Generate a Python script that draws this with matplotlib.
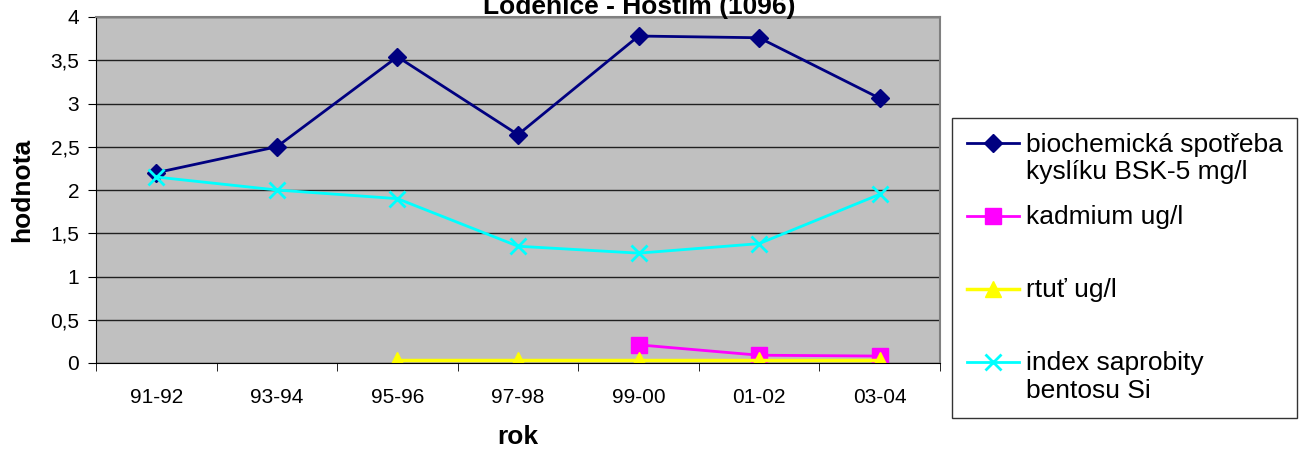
import matplotlib
matplotlib.use('Agg')
import numpy as np
import matplotlib.pyplot as plt
from matplotlib.legend_handler import HandlerLine2D
from matplotlib.ticker import FixedLocator, NullFormatter

plt.rcParams['font.family'] = ['Liberation Sans', 'DejaVu Sans']

roky = ['91-92', '93-94', '95-96', '97-98', '99-00', '01-02', '03-04']
bsk = [2.20, 2.50, 3.54, 2.64, 3.78, 3.76, 3.06]
kadmium = [None, None, None, None, 0.21, 0.09, 0.08]
rtut = [None, None, 0.03, 0.03, 0.03, 0.03, 0.03]
saprobita = [2.15, 2.00, 1.90, 1.35, 1.27, 1.38, 1.95]
yticky = [0, 0.5, 1, 1.5, 2, 2.5, 3, 3.5, 4]
ytick_popisky = ['0', '0,5', '1', '1,5', '2', '2,5', '3', '3,5', '4']
legenda = ['biochemická spotřeba\nkyslíku BSK-5 mg/l',
           'kadmium ug/l\n ',
           'rtuť ug/l\n ',
           'index saprobity\nbentosu Si']

def body(hodnoty):
    xs = [i for i, v in enumerate(hodnoty) if v is not None]
    ys = [v for v in hodnoty if v is not None]
    return xs, ys

# znacka v legende u prvniho radku popisu (jako Excel)
class HandlerNahore(HandlerLine2D):
    def create_artists(self, legend, orig_handle, xdescent, ydescent,
                       width, height, fontsize, trans):
        art = super().create_artists(legend, orig_handle, xdescent, ydescent,
                                     width, height, fontsize, trans)
        for a in art:
            a.set_ydata(np.asarray(a.get_ydata()) + 0.6 * fontsize)
        return art

fig = plt.figure(figsize=(13.05, 4.5), dpi=100)
ax = fig.add_axes([96 / 1305, 87 / 450, 844 / 1305, 346 / 450])
ax.set_facecolor('#C0C0C0')

car = []
x, y = body(bsk)
car += ax.plot(x, y, '-D', color='#000080', lw=2, ms=9)
x, y = body(kadmium)
car += ax.plot(x, y, '-s', color='#FF00FF', lw=2, ms=11)
x, y = body(rtut)
car += ax.plot(x, y, '-^', color='#FFFF00', lw=2.5, ms=11)
x, y = body(saprobita)
car += ax.plot(x, y, '-x', color='#00FFFF', lw=2, ms=11, mew=2)

ax.set_xlim(-0.5, 6.5)
ax.set_ylim(0, 4)
ax.set_yticks(yticky)
ax.set_yticklabels(ytick_popisky, fontsize=15)
ax.set_xticks(range(len(roky)))
ax.set_xticklabels(roky, fontsize=15)
ax.tick_params(axis='x', length=0, pad=18)
ax.xaxis.set_minor_locator(FixedLocator([i - 0.5 for i in range(len(roky) + 1)]))
ax.xaxis.set_minor_formatter(NullFormatter())
ax.tick_params(axis='x', which='minor', length=6, color='black')
ax.tick_params(axis='y', length=6, pad=6)
ax.grid(axis='y', color='#202020', lw=1)
ax.set_axisbelow(True)
for s in ['top', 'right']:
    ax.spines[s].set_color('#808080')
    ax.spines[s].set_linewidth(1.5)
for s in ['left', 'bottom']:
    ax.spines[s].set_color('black')

ax.set_xlabel('rok', fontsize=19, fontweight='bold', labelpad=13)
ax.set_ylabel('hodnota', fontsize=19, fontweight='bold', labelpad=12)

fig.text(0.49, 1 - 14 / 450, 'Loděnice - Hostim (1096)', fontsize=19,
         fontweight='bold', ha='center', va='baseline')

leg = fig.legend(car, legenda, loc='upper left',
                 bbox_to_anchor=(952 / 1305, 1 - 118 / 450),
                 fontsize=19, frameon=True, fancybox=False, edgecolor='black',
                 labelspacing=0.8, handlelength=2.0, handletextpad=0.25,
                 borderpad=0.55, borderaxespad=0,
                 handler_map={l: HandlerNahore() for l in car})
leg.get_frame().set_linewidth(1)

plt.savefig('out.png', dpi=100)
